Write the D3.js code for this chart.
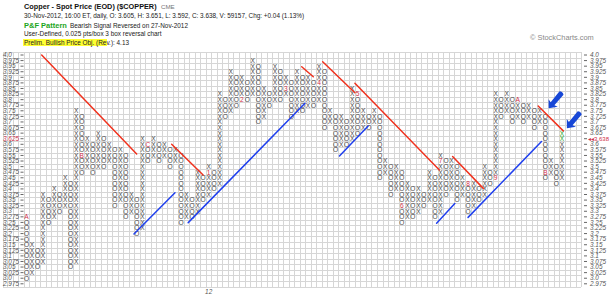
<!DOCTYPE html>
<html>
<head>
<meta charset="utf-8">
<script src="https://cdn.jsdelivr.net/npm/d3@7"></script>
<style>
  body { margin: 0; background: #fff; }
  text { font-family: "Liberation Sans", Arial, sans-serif; }
</style>
</head>
<body>
<div id="chart"></div>
<script>
// ---- chart values --------------------------------------------------------
const boxSize = 0.025;
const priceLabels = ["4.0","3.975","3.95","3.925","3.9","3.875","3.85","3.825","3.8","3.775",
  "3.75","3.725","3.7","3.675","3.65","3.625","3.6","3.575","3.55","3.525","3.5","3.475",
  "3.45","3.425","3.4","3.375","3.35","3.325","3.3","3.275","3.25","3.225","3.2","3.175",
  "3.15","3.125","3.1","3.075","3.05","3.025","3.0","2.975"];

// P&F columns, left to right (they alternate O / X)
const colType = d3.range(98).map(i => (i % 2 ? "X" : "O"));
const colLow  = [3.0,3.025,3.05,3.075,3.25,3.275,3.3,3.325,3.05,3.075,
                 3.475,3.5,3.475,3.5,3.5,3.525,3.325,3.35,3.275,3.3,
                 3.2,3.225,3.525,3.55,3.525,3.55,3.5,3.525,3.25,3.275,
                 3.275,3.3,3.35,3.375,3.4,3.425,3.725,3.75,3.775,3.8,
                 3.8,3.825,3.7,3.725,3.775,3.8,3.8,3.825,3.725,3.75,
                 3.75,3.775,3.775,3.8,3.675,3.7,3.575,3.6,3.6,3.625,
                 3.65,3.675,3.675,3.7,3.45,3.475,3.375,3.4,3.25,3.275,
                 3.275,3.3,3.325,3.35,3.275,3.3,3.375,3.4,3.35,3.375,
                 3.3,3.325,3.35,3.375,3.425,3.45,3.725,3.75,3.7,3.725,
                 3.7,3.725,3.675,3.7,3.45,3.475,3.425,3.45];
const colHigh = [3.275,3.15,3.125,3.375,3.35,3.4,3.375,3.45,3.425,3.75,
                 3.725,3.625,3.6,3.65,3.625,3.6,3.575,3.575,3.55,3.375,
                 3.35,3.625,3.6,3.625,3.6,3.6,3.575,3.575,3.55,3.375,
                 3.35,3.475,3.45,3.5,3.475,3.825,3.8,3.925,3.9,3.9,
                 3.875,3.975,3.95,3.85,3.825,3.95,3.925,3.9,3.875,3.925,
                 3.9,3.9,3.875,3.95,3.925,3.75,3.725,3.725,3.7,3.85,
                 3.825,3.75,3.725,3.75,3.725,3.525,3.5,3.5,3.475,3.425,
                 3.4,3.4,3.375,3.475,3.45,3.55,3.525,3.525,3.5,3.45,
                 3.425,3.425,3.4,3.5,3.475,3.825,3.8,3.825,3.8,3.8,
                 3.775,3.775,3.75,3.75,3.725,3.525,3.5,3.65];

// month markers: [column, price, label]
const monthMarks = [[0,3.275,"A"],[10,3.55,"B"],[22,3.6,"C"],[33,3.475,"1"],[39,3.8,"2"],
  [47,3.85,"3"],[53,3.875,"4"],[60,3.825,"5"],[68,3.325,"6"],[75,3.525,"7"],
  [80,3.425,"8"],[85,3.45,"9"],[89,3.8,"A"],[94,3.475,"B"]];
// boxes added in the latest session
const latestBoxes = [[97,3.65],[97,3.625]];
const yearMarks = [[33,"12"]];

// trend lines: [col1, price1, col2, price2]
const redLines = [[2.75,4.0,19.96,3.5565],[26.3,3.6,32.0,3.4625],[49.86,3.9475,51.96,3.9025],
  [53.66,3.97,59.5,3.831],[59.5,3.873,74.8,3.485],[77.2,3.545,82.75,3.4025],[92.7,3.7715,97.25,3.66]];
const blueLines = [[19.47,3.198,26.9,3.3825],[29.3,3.249,50.45,3.7835],[56.7,3.5475,61.9,3.682],
  [74.3,3.246,77.6,3.335],[80.0,3.2725,93.3,3.6125]];
// hand drawn arrows: tip [col, price]
const arrowTips = [[94.6,3.761],[97.9,3.672]];

const lastPrice = 3.638;

// ---- drawing -------------------------------------------------------------
const W = 615, H = 298;
const svg = d3.select("#chart").append("svg").attr("width", W).attr("height", H);

const x = d3.scaleLinear().domain([0, 97]).range([26.5, 561.9]);
const y = d3.scaleLinear().domain([2.975, 4.0]).range([283.8, 55]);
const cellH = y(3.0) - y(3.025);

// header
const hdr = svg.append("g");
hdr.append("text").attr("x", 24).attr("y", 9).attr("font-size", "7.3px").attr("font-weight", "bold")
  .attr("fill", "#111").text("Copper - Spot Price (EOD) ($COPPER)");
hdr.append("text").attr("x", 161).attr("y", 9).attr("font-size", "6.2px").attr("fill", "#777").text("CME");
hdr.append("text").attr("x", 24).attr("y", 18).attr("font-size", "6.4px").attr("fill", "#222")
  .text("30-Nov-2012, 16:00 ET, daily, O: 3.605, H: 3.651, L: 3.592, C: 3.638, V: 59157, Chg: +0.04 (1.13%)");
hdr.append("text").attr("x", 24).attr("y", 27.5).attr("font-size", "7.5px").attr("font-weight", "bold")
  .attr("fill", "#1ca51c").text("P&F Pattern");
hdr.append("text").attr("x", 70).attr("y", 27.5).attr("font-size", "6.4px").attr("fill", "#222")
  .text("Bearish Signal Reversed on 27-Nov-2012");
hdr.append("text").attr("x", 24).attr("y", 36.3).attr("font-size", "6.4px").attr("fill", "#222")
  .text("User-Defined, 0.025 pts/box 3 box reversal chart");
hdr.append("rect").attr("x", 23).attr("y", 39).attr("width", 84).attr("height", 7).attr("fill", "#ffff33");
hdr.append("text").attr("x", 24).attr("y", 45).attr("font-size", "6.4px").attr("fill", "#222")
  .text("Prelim. Bullish Price Obj. (Rev.): 4.13");
hdr.append("text").attr("x", 530).attr("y", 40).attr("font-size", "7.4px").attr("fill", "#888")
  .text("\u00a9 StockCharts.com");

// grid
const grid = svg.append("g").attr("stroke", "#d6d6d6").attr("stroke-width", 1).attr("shape-rendering", "crispEdges");
const gx0 = 3, gx1 = x(100.5);
const gy0 = y(4.0) - cellH / 2, gy1 = y(2.975) + cellH / 2;
d3.range(-4, 102).forEach(c => {
  const xx = Math.round(x(c - 0.5)) + 0.5;
  if (xx < gx0 || xx > gx1 + 1) return;
  grid.append("line").attr("x1", xx).attr("x2", xx).attr("y1", gy0).attr("y2", gy1);
});
grid.append("line").attr("x1", gx0 + 0.5).attr("x2", gx0 + 0.5).attr("y1", gy0).attr("y2", gy1);
priceLabels.forEach((lab, i) => {
  const yy = Math.round(y(4.0 - i * boxSize) - cellH / 2) + 0.5;
  grid.append("line").attr("x1", gx0).attr("x2", gx1).attr("y1", yy).attr("y2", yy);
});
grid.append("line").attr("x1", gx0).attr("x2", gx1)
  .attr("y1", Math.round(gy1) + 0.5).attr("y2", Math.round(gy1) + 0.5);

// price labels, left and right
const axisG = svg.append("g").attr("font-size", "6.4px").attr("font-style", "italic");
priceLabels.forEach((lab, i) => {
  const p = 4.0 - i * boxSize;
  const yy = y(p);
  const isLast = Math.abs(p - 3.625) < 1e-6;
  axisG.append("text").attr("x", 3).attr("y", yy + 2.2).attr("fill", isLast ? "#d0304a" : "#555").text(lab);
  axisG.append("line").attr("x1", 20.5).attr("x2", 23.5).attr("y1", yy).attr("y2", yy).attr("stroke", "#666");
  axisG.append("line").attr("x1", 584).attr("x2", 587).attr("y1", yy).attr("y2", yy).attr("stroke", "#666");
  if (isLast) {
    axisG.append("text").attr("x", 588).attr("y", yy + 2.2).attr("fill", "#d0304a").attr("font-style", "normal")
      .attr("font-size", "6px").text("\u25c2\u25c2" + lastPrice.toFixed(3));
  } else {
    axisG.append("text").attr("x", 590).attr("y", yy + 2.2).attr("fill", "#555").text(lab);
  }
});

// X and O boxes
const marks = svg.append("g").attr("font-size", "6.6px").attr("text-anchor", "middle");
const markKey = new Map(monthMarks.map(m => [m[0] + ":" + Math.round(m[1] / boxSize), m[2]]));
const greenKey = new Set(latestBoxes.map(b => b[0] + ":" + Math.round(b[1] / boxSize)));
colType.forEach((t, c) => {
  const lo = Math.round(colLow[c] / boxSize), hi = Math.round(colHigh[c] / boxSize);
  for (let k = lo; k <= hi; k++) {
    const key = c + ":" + k;
    const p = k * boxSize;
    if (markKey.has(key)) {
      marks.append("text").attr("x", x(c)).attr("y", y(p) + 2.4).attr("fill", "#d0304a")
        .text(markKey.get(key));
    } else {
      marks.append("text").attr("x", x(c)).attr("y", y(p) + 2.4)
        .attr("fill", greenKey.has(key) ? "#22aa22" : "#4a4a4a").text(t);
    }
  }
});

// year labels under the grid
yearMarks.forEach(m => {
  svg.append("text").attr("x", x(m[0])).attr("y", 294).attr("font-size", "6.4px")
    .attr("font-style", "italic").attr("text-anchor", "middle").attr("fill", "#555").text(m[1]);
});

// trend lines
const lines = svg.append("g").attr("stroke-width", 1.5).attr("stroke-linecap", "round");
redLines.forEach(l => lines.append("line").attr("stroke", "#f0321e")
  .attr("x1", x(l[0])).attr("y1", y(l[1])).attr("x2", x(l[2])).attr("y2", y(l[3])));
blueLines.forEach(l => lines.append("line").attr("stroke", "#2040ee")
  .attr("x1", x(l[0])).attr("y1", y(l[1])).attr("x2", x(l[2])).attr("y2", y(l[3])));

// arrows pointing at the last resistance line
arrowTips.forEach(a => {
  const tx = x(a[0]), ty = y(a[1]);
  const g = svg.append("g").attr("transform", `translate(${tx},${ty}) rotate(-50)`);
  g.append("path").attr("fill", "#1747d6")
    .attr("d", "M0,0 L7,-6 L6,-2.4 L20,-2.6 Q22,0 20,2.6 L6,2.4 L7,6 Z");
});
</script>
</body>
</html>
